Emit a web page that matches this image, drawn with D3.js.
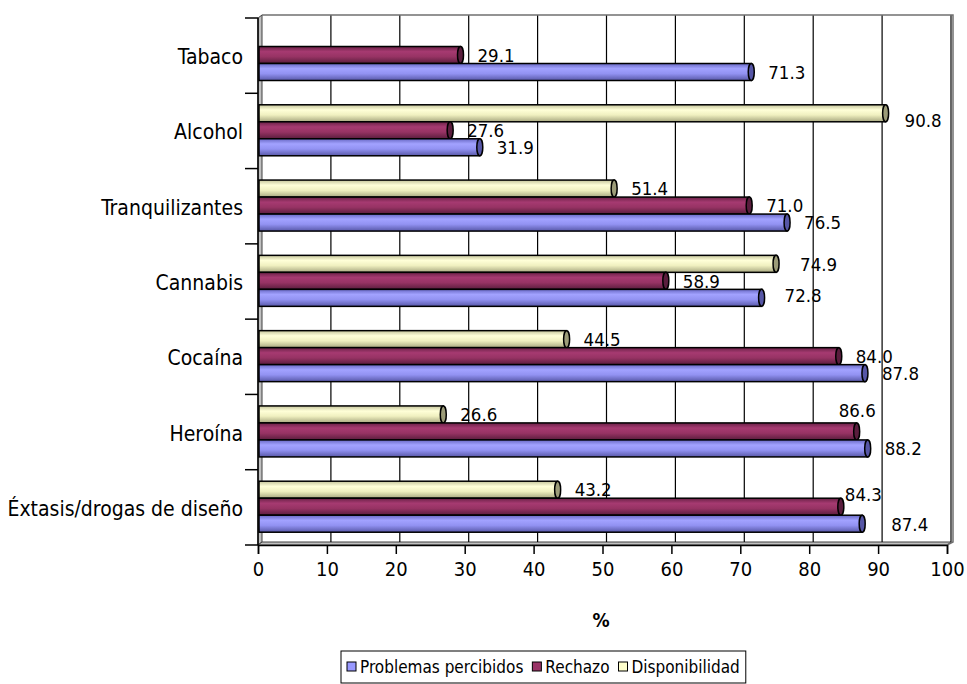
<!DOCTYPE html>
<html>
<head>
<meta charset="utf-8">
<script src="https://cdn.jsdelivr.net/npm/d3@7"></script>
<style>
  body { margin: 0; background: #fff; }
  text { font-family: Tahoma, "DejaVu Sans Condensed", "DejaVu Sans", sans-serif; fill: #000; }
</style>
</head>
<body>
<svg id="chart"></svg>
<script>
// Chart data
const categories = ['Tabaco', 'Alcohol', 'Tranquilizantes', 'Cannabis', 'Cocaína', 'Heroína', 'Éxtasis/drogas de diseño'];
const problemas = [71.3, 31.9, 76.5, 72.8, 87.8, 88.2, 87.4];
const rechazo = [29.1, 27.6, 71.0, 58.9, 84.0, 86.6, 84.3];
const disponibilidad = [null, 90.8, 51.4, 74.9, 44.5, 26.6, 43.2];
const xTicks = [0, 10, 20, 30, 40, 50, 60, 70, 80, 90, 100];

// Layout constants
const W = 967, H = 684;
const PLOT = { left: 258, right: 947, top: 18, bottom: 545 };
const DEPTH = { dx: 4, dy: -3 };

const series = [
  { name: 'Disponibilidad', values: disponibilidad, base: '#FFFFCC', stops: ['#c4c49a', '#ffffd8', '#f0f0c0', '#a8a880'], cap: '#9c9c78' },
  { name: 'Rechazo', values: rechazo, base: '#993366', stops: ['#6a2146', '#a63a71', '#973364', '#5a1d3d'], cap: '#5a1d3d' },
  { name: 'Problemas percibidos', values: problemas, base: '#9999FF', stops: ['#6868c4', '#a2a2ff', '#9292f2', '#5858a8'], cap: '#5656a6' }
];
const legendOrder = ['Problemas percibidos', 'Rechazo', 'Disponibilidad'];

// Label nudges (series|category) where the original placed labels oddly
const labelNudge = {
  'Rechazo|Heroína': [-35, -21],
  'Rechazo|Éxtasis/drogas de diseño': [-13, -12],
  'Disponibilidad|Alcohol': [2, 7],
  'Problemas percibidos|Éxtasis/drogas de diseño': [12, 1],
  'Disponibilidad|Cannabis': [7, 0],
  'Problemas percibidos|Cannabis': [6, -3]
};

const svg = d3.select('#chart').attr('width', W).attr('height', H);

const x = d3.scaleLinear().domain([0, 100]).range([PLOT.left, PLOT.right]);
const y = d3.scaleBand().domain(categories).range([PLOT.top, PLOT.bottom]);
const ySub = d3.scaleBand().domain(series.map(s => s.name)).range([11.5, 62.5]);

// Gradients for the cylinder look
const defs = svg.append('defs');
series.forEach((s, i) => {
  const g = defs.append('linearGradient')
    .attr('id', 'grad' + i)
    .attr('x1', 0).attr('y1', 0).attr('x2', 0).attr('y2', 1);
  [0, 0.3, 0.6, 1].forEach((o, k) => {
    g.append('stop').attr('offset', o).attr('stop-color', s.stops[k]);
  });
});

// Walls: left wall and floor
const x0 = PLOT.left, xb = PLOT.left + DEPTH.dx;
const yTopBack = PLOT.top + DEPTH.dy, yBotBack = PLOT.bottom + DEPTH.dy;
svg.append('path')
  .attr('d', `M${x0},${PLOT.top} L${xb},${yTopBack} L${xb},${yBotBack} L${x0},${PLOT.bottom} Z`)
  .attr('fill', '#c0c0c0').attr('stroke', '#404040').attr('stroke-width', 1);
svg.append('path')
  .attr('d', `M${x0},${PLOT.bottom} L${xb},${yBotBack} L${PLOT.right + DEPTH.dx},${yBotBack} L${PLOT.right},${PLOT.bottom} Z`)
  .attr('fill', '#c0c0c0').attr('stroke', '#404040').attr('stroke-width', 1);

// Flatten bar data
const bars = [];
series.forEach((s, si) => {
  s.values.forEach((v, ci) => {
    if (v == null) return;
    bars.push({ series: s.name, si: si, cat: categories[ci], value: v });
  });
});

// Value labels (drawn under gridlines like the original)
svg.append('g').selectAll('text')
  .data(bars)
  .enter().append('text')
  .attr('x', d => x(d.value) + 2 + 3 + 14 + (labelNudge[d.series + '|' + d.cat] || [0, 0])[0])
  .attr('y', d => y(d.cat) + ySub(d.series) + ySub.bandwidth() / 2 + (labelNudge[d.series + '|' + d.cat] || [0, 0])[1])
  .attr('dy', '0.36em')
  .style('font-size', '18.5px')
  .text(d => d.value.toFixed(1));

// Back wall gridlines
svg.append('g').selectAll('line')
  .data(xTicks.slice(1))
  .enter().append('line')
  .attr('x1', d => x(d) + DEPTH.dx).attr('x2', d => x(d) + DEPTH.dx)
  .attr('y1', yTopBack).attr('y2', yBotBack)
  .attr('stroke', '#000').attr('stroke-width', 1.2);

// Back wall top and right edges
svg.append('path')
  .attr('d', `M${xb},${yTopBack} L${PLOT.right + DEPTH.dx + 2},${yTopBack} L${PLOT.right + DEPTH.dx + 2},${yBotBack} L${PLOT.right},${PLOT.bottom}`)
  .attr('fill', 'none').attr('stroke', '#707070').attr('stroke-width', 1.5);

// Cylinder bars
const barG = svg.append('g').selectAll('g')
  .data(bars)
  .enter().append('g')
  .attr('transform', d => `translate(0,${y(d.cat) + ySub(d.series)})`);

barG.append('rect')
  .attr('x', x(0) + 1)
  .attr('y', 0)
  .attr('width', d => x(d.value) + 2 - x(0) - 1)
  .attr('height', ySub.bandwidth())
  .attr('fill', d => `url(#grad${d.si})`)
  .attr('stroke', '#000').attr('stroke-width', 1.5);

barG.append('ellipse')
  .attr('cx', d => x(d.value) + 2)
  .attr('cy', ySub.bandwidth() / 2)
  .attr('rx', 3)
  .attr('ry', ySub.bandwidth() / 2)
  .attr('fill', d => series[d.si].cap)
  .attr('stroke', '#000').attr('stroke-width', 1.5);

// Left axis with category ticks
svg.append('line')
  .attr('x1', PLOT.left).attr('x2', PLOT.left)
  .attr('y1', PLOT.top).attr('y2', PLOT.bottom)
  .attr('stroke', '#000').attr('stroke-width', 1.5);
svg.append('g').selectAll('line')
  .data(categories.map(c => y(c)).concat([PLOT.bottom]))
  .enter().append('line')
  .attr('x1', PLOT.left - 13).attr('x2', PLOT.left)
  .attr('y1', d => d).attr('y2', d => d)
  .attr('stroke', '#000').attr('stroke-width', 1.5);
svg.append('g').selectAll('text')
  .data(categories)
  .enter().append('text')
  .attr('x', 243)
  .attr('y', d => y(d) + y.bandwidth() / 2 + 1)
  .attr('dy', '0.36em')
  .attr('text-anchor', 'end')
  .style('font-size', '21px')
  .text(d => d);

// Bottom axis
const xAxis = d3.axisBottom(x).tickValues(xTicks).tickSize(9).tickPadding(8);
const axisG = svg.append('g')
  .attr('transform', `translate(0,${PLOT.bottom})`)
  .call(xAxis);
axisG.attr('font-family', null).attr('font-size', null);
axisG.select('.domain').attr('stroke', '#000').attr('stroke-width', 1.5);
axisG.selectAll('.tick line').attr('stroke', '#000').attr('stroke-width', 1.5);
axisG.selectAll('.tick text')
  .style('font-size', '20px')
  .attr('fill', '#000');

// Axis title
svg.append('text')
  .attr('x', 601).attr('y', 620)
  .attr('dy', '0.36em')
  .attr('text-anchor', 'middle')
  .style('font-size', '19px')
  .style('font-weight', 'bold')
  .text('%');

// Legend
const legend = svg.append('g').attr('transform', 'translate(341,651)');
const legendBox = legend.append('rect')
  .attr('x', 0).attr('y', 0).attr('height', 32)
  .attr('fill', '#fff').attr('stroke', '#000').attr('stroke-width', 1);
let lx = 6;
legendOrder.forEach(name => {
  const s = series.find(d => d.name === name);
  legend.append('rect')
    .attr('x', lx).attr('y', 11).attr('width', 9).attr('height', 9)
    .attr('fill', s.base).attr('stroke', '#000').attr('stroke-width', 1);
  const t = legend.append('text')
    .attr('x', lx + 13).attr('y', 16)
    .attr('dy', '0.36em')
    .style('font-size', '17px')
    .text(name);
  lx += 13 + t.node().getComputedTextLength() + 9;
});
legendBox.attr('width', lx - 3);
</script>
</body>
</html>
